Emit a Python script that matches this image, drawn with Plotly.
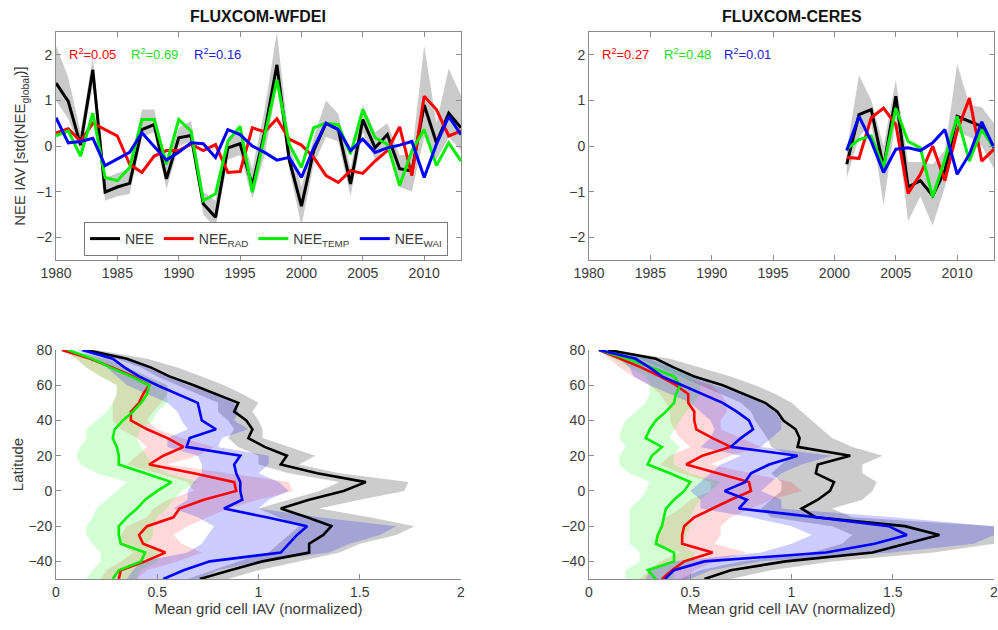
import plotly.graph_objects as go

# ---------------- NEE IAV time series ----------------
years_wfdei = list(range(1980, 2014))
wfdei_nee = [1.38, 0.98, 0.02, 1.67, -1.01, -0.9, -0.82, 0.36, 0.47, -0.72, 0.18, 0.23,
             -1.27, -1.56, -0.04, 0.05, -0.87, 0.3, 1.78, -0.3, -1.32, -0.1, 0.5, 0.36,
             -0.83, 0.58, -0.04, 0.25, -0.5, -0.55, 0.9, 0.07, 0.72, 0.4]
wfdei_rad = [0.29, 0.38, 0.1, 0.5, 0.36, 0.22, -0.4, -0.58, -0.22, -0.1, -0.1, 0.04,
             -0.1, 0.03, -0.58, -0.56, 0.4, 0.31, 0.6, 0.15, 0.02, -0.25, -0.65, -0.8,
             -0.54, -0.6, -0.33, -0.1, 0.42, -0.65, 1.09, 0.8, 0.22, 0.33]
wfdei_temp = [0.22, 0.33, -0.22, 0.72, -0.69, -0.76, -0.47, 0.58, 0.58, -0.4, 0.58, 0.33,
              -1.2, -1.05, 0.1, 0.43, -1.01, 0.2, 1.45, 0.04, -0.47, 0.4, 0.5, 0.47,
              -0.18, 0.8, 0.18, 0.04, -0.87, -0.1, 0.36, -0.43, 0.07, -0.33]
wfdei_wai = [0.62, 0.07, 0.1, 0.17, -0.43, -0.29, -0.14, 0.29, 0.0, -0.31, -0.14, 0.07,
             0.05, -0.25, 0.36, 0.25, 0.0, -0.14, -0.31, -0.25, -0.69, -0.04, 0.5, 0.36,
             -0.1, 0.15, -0.14, -0.04, 0.02, 0.1, -0.69, 0.04, 0.65, 0.25]
wfdei_nee_lo = [1.0, 0.6, -0.1, 1.3, -1.2, -1.1, -1.05, 0.2, 0.3, -0.95, 0.0, 0.1,
                -1.5, -1.8, -0.3, -0.2, -1.15, -0.2, 1.3, -0.5, -1.75, -0.4, 0.2, 0.1,
                -1.1, 0.3, -0.3, 0.0, -0.9, -1.0, 0.2, -0.3, 0.2, -0.1]
wfdei_nee_hi = [2.2, 1.5, 0.3, 1.95, -0.7, -0.6, -0.5, 0.8, 0.8, -0.4, 0.4, 0.55,
                -1.0, -1.2, 0.2, 0.35, -0.5, 0.8, 2.5, 0.1, -0.9, 0.2, 1.0, 0.7,
                -0.5, 0.9, 0.3, 0.5, -0.2, -0.2, 2.2, 0.5, 1.7, 1.1]

years_ceres = list(range(2001, 2014))
ceres_nee = [-0.4, 0.69, 0.8, -0.47, 1.09, -0.9, -0.76, -1.09, -0.54, 0.65, 0.54, 0.43, -0.04]
ceres_rad = [-0.25, -0.27, 0.62, 0.83, 0.47, -1.04, -0.62, 0.0, -0.76, 0.33, 1.05, -0.33, -0.07]
ceres_temp = [-0.07, 0.14, 0.22, -0.47, 0.83, 0.1, -0.04, -1.12, -0.29, 0.65, -0.33, 0.36, -0.04]
ceres_wai = [-0.1, 0.65, 0.1, -0.58, -0.07, -0.04, -0.1, 0.07, 0.36, -0.62, -0.18, 0.53, -0.04]
ceres_nee_lo = [-0.7, 0.2, 0.5, -1.3, 0.6, -1.65, -1.1, -1.75, -0.9, 0.3, 0.2, 0.0, -0.5]
ceres_nee_hi = [-0.1, 1.55, 1.0, 0.0, 1.45, -0.35, -0.35, -0.4, -0.1, 1.8, 0.9, 0.85, 0.5]

r2_wfdei = ["0.05", "0.69", "0.16"]
r2_ceres = ["0.27", "0.48", "0.01"]

# ---------------- Latitudinal profiles ----------------
lat = [80, 75, 70, 65, 60, 55, 50, 45, 40, 35, 30, 25, 20, 15, 10, 5, 0,
       -5, -10, -15, -20, -25, -30, -35, -40, -45, -50]

w_nee = [0.15, 0.35, 0.47, 0.56, 0.68, 0.79, 0.90, 0.88, 0.94, 0.97, 0.95, 1.03, 1.14, 1.11,
         1.29, 1.53, 1.42, 1.25, 1.11, 1.24, 1.36, 1.32, 1.25, 1.25, 1.02, 0.86, 0.71]
w_rad = [0.03, 0.17, 0.28, 0.38, 0.46, 0.43, 0.41, 0.37, 0.37, 0.45, 0.55, 0.63, 0.53, 0.46,
         0.68, 0.88, 0.89, 0.73, 0.61, 0.58, 0.45, 0.41, 0.43, 0.54, 0.44, 0.32, 0.31]
w_temp = [0.06, 0.18, 0.27, 0.37, 0.46, 0.45, 0.42, 0.38, 0.33, 0.29, 0.28, 0.30, 0.31, 0.31,
          0.44, 0.57, 0.50, 0.44, 0.40, 0.35, 0.31, 0.31, 0.32, 0.44, 0.42, 0.31, 0.28]
w_wai = [0.13, 0.28, 0.34, 0.41, 0.50, 0.60, 0.70, 0.71, 0.72, 0.79, 0.66, 0.645, 0.91, 0.88,
         0.89, 0.91, 0.91, 0.92, 0.83, 1.04, 1.24, 1.19, 1.15, 1.11, 0.76, 0.63, 0.53]

w_nee_lo = [0.14, 0.3, 0.42, 0.5, 0.6, 0.7, 0.8, 0.8, 0.85, 0.88, 0.85, 0.9, 1.0, 1.0,
            1.15, 1.4, 1.3, 1.15, 1.0, 1.1, 1.2, 1.15, 1.1, 1.05, 0.9, 0.78, 0.65]
w_nee_hi = [0.2, 0.45, 0.6, 0.72, 0.83, 0.92, 1.0, 0.97, 1.0, 1.02, 1.02, 1.15, 1.28, 1.2,
            1.4, 1.74, 1.72, 1.5, 1.3, 1.55, 1.77, 1.68, 1.5, 1.4, 1.2, 1.0, 0.85]
w_rad_lo = [0.02, 0.1, 0.15, 0.22, 0.3, 0.3, 0.28, 0.28, 0.28, 0.32, 0.4, 0.45, 0.4, 0.35,
            0.5, 0.65, 0.68, 0.55, 0.48, 0.45, 0.35, 0.32, 0.32, 0.38, 0.32, 0.25, 0.22]
w_rad_hi = [0.05, 0.25, 0.35, 0.45, 0.55, 0.55, 0.52, 0.48, 0.45, 0.5, 0.62, 0.78, 0.7, 0.55,
            0.85, 1.15, 1.17, 1.0, 0.85, 0.75, 0.65, 0.58, 0.62, 0.72, 0.6, 0.45, 0.4]
w_temp_lo = [0.04, 0.1, 0.15, 0.22, 0.3, 0.3, 0.28, 0.25, 0.2, 0.15, 0.15, 0.12, 0.1, 0.12,
             0.2, 0.35, 0.3, 0.25, 0.2, 0.18, 0.15, 0.15, 0.18, 0.22, 0.22, 0.18, 0.15]
w_temp_hi = [0.08, 0.25, 0.35, 0.45, 0.55, 0.55, 0.55, 0.5, 0.48, 0.42, 0.4, 0.42, 0.45, 0.48,
             0.55, 0.7, 0.62, 0.58, 0.55, 0.5, 0.48, 0.48, 0.45, 0.52, 0.5, 0.42, 0.4]
w_wai_lo = [0.1, 0.2, 0.25, 0.3, 0.35, 0.45, 0.55, 0.6, 0.62, 0.65, 0.55, 0.55, 0.7, 0.72,
            0.72, 0.68, 0.65, 0.65, 0.58, 0.7, 0.78, 0.75, 0.72, 0.65, 0.42, 0.38, 0.35]
w_wai_hi = [0.16, 0.35, 0.45, 0.55, 0.65, 0.78, 0.88, 0.9, 0.88, 0.95, 0.82, 0.8, 1.05, 1.05,
            1.0, 1.1, 1.15, 1.05, 1.0, 1.3, 1.68, 1.6, 1.45, 1.35, 1.0, 0.8, 0.7]

c_nee = [0.095, 0.33, 0.42, 0.52, 0.66, 0.77, 0.87, 0.93, 0.96, 1.02, 1.04, 1.03, 1.29, 1.13,
         1.12, 1.21, 1.19, 1.13, 1.05, 1.12, 1.56, 1.73, 1.56, 1.40, 0.97, 0.70, 0.57]
c_rad = [0.05, 0.16, 0.26, 0.35, 0.43, 0.49, 0.49, 0.52, 0.52, 0.53, 0.61, 0.70, 0.56, 0.48,
         0.64, 0.79, 0.80, 0.70, 0.61, 0.52, 0.47, 0.46, 0.46, 0.61, 0.47, 0.41, 0.36]
c_temp = [0.05, 0.19, 0.31, 0.42, 0.45, 0.43, 0.42, 0.38, 0.33, 0.30, 0.28, 0.36, 0.31, 0.29,
          0.40, 0.50, 0.47, 0.42, 0.38, 0.37, 0.36, 0.34, 0.33, 0.42, 0.42, 0.29, 0.33]
c_wai = [0.05, 0.23, 0.30, 0.36, 0.46, 0.56, 0.66, 0.73, 0.79, 0.81, 0.75, 0.70, 1.03, 0.89,
         0.80, 0.77, 0.67, 0.78, 0.74, 1.13, 1.48, 1.57, 1.41, 1.17, 0.57, 0.42, 0.375]

c_nee_lo = [0.08, 0.25, 0.35, 0.45, 0.55, 0.65, 0.75, 0.8, 0.82, 0.85, 0.88, 0.9, 1.0, 0.95,
            0.9, 0.95, 0.95, 0.9, 0.85, 0.9, 1.2, 1.3, 1.25, 1.1, 0.75, 0.55, 0.45]
c_nee_hi = [0.12, 0.4, 0.55, 0.7, 0.82, 0.92, 1.0, 1.05, 1.1, 1.15, 1.2, 1.3, 1.45, 1.35,
            1.35, 1.42, 1.4, 1.35, 1.2, 1.3, 2.0, 2.0, 2.0, 1.7, 1.2, 0.9, 0.7]
c_rad_lo = [0.04, 0.1, 0.15, 0.22, 0.3, 0.35, 0.38, 0.4, 0.4, 0.42, 0.45, 0.5, 0.4, 0.35,
            0.45, 0.6, 0.6, 0.5, 0.45, 0.38, 0.35, 0.33, 0.33, 0.45, 0.35, 0.3, 0.25]
c_rad_hi = [0.06, 0.25, 0.35, 0.45, 0.6, 0.65, 0.68, 0.68, 0.65, 0.65, 0.75, 0.85, 0.7, 0.6,
            0.8, 1.0, 1.05, 0.9, 0.8, 0.7, 0.65, 0.65, 0.62, 0.78, 0.62, 0.52, 0.48]
c_temp_lo = [0.04, 0.12, 0.2, 0.28, 0.3, 0.3, 0.28, 0.23, 0.18, 0.16, 0.15, 0.18, 0.15, 0.15,
             0.2, 0.3, 0.28, 0.25, 0.2, 0.2, 0.2, 0.2, 0.2, 0.25, 0.25, 0.18, 0.18]
c_temp_hi = [0.07, 0.28, 0.4, 0.5, 0.55, 0.55, 0.52, 0.48, 0.45, 0.42, 0.4, 0.45, 0.42, 0.42,
             0.5, 0.65, 0.6, 0.55, 0.52, 0.5, 0.5, 0.48, 0.45, 0.52, 0.52, 0.42, 0.42]
c_wai_lo = [0.04, 0.15, 0.2, 0.22, 0.3, 0.4, 0.5, 0.55, 0.6, 0.62, 0.6, 0.55, 0.75, 0.65,
            0.6, 0.55, 0.5, 0.55, 0.55, 0.8, 1.0, 1.1, 1.0, 0.85, 0.4, 0.3, 0.28]
c_wai_hi = [0.07, 0.3, 0.4, 0.5, 0.62, 0.75, 0.85, 0.92, 0.95, 0.95, 0.9, 0.85, 1.2, 1.05,
            0.95, 0.9, 0.85, 0.95, 0.95, 1.5, 2.0, 2.0, 1.9, 1.5, 0.85, 0.6, 0.5]

# ---------------- styling ----------------
FONT = "Liberation Sans, Arial, Helvetica, sans-serif"
TXT = "#3a3a3a"
AXC = "#8c8c8c"
COL = {"nee": "#000000", "rad": "#ff0000", "temp": "#00ee00", "wai": "#0000ff"}
BAND = {"nee": "rgba(128,128,128,0.4)", "rad": "rgba(255,0,0,0.15)",
        "temp": "rgba(0,255,0,0.17)", "wai": "rgba(0,0,255,0.2)"}
TOP_BAND = "rgba(150,150,150,0.5)"
W, H = 998, 630


def px(x, y):
    return x / W, 1 - y / H


fig = go.Figure()


def add_timeseries(xa, ya, years, nee, rad, temp, wai, lo, hi, legend):
    fig.add_trace(go.Scatter(x=years + years[::-1], y=lo + hi[::-1], fill="toself",
                             fillcolor=TOP_BAND, line=dict(width=0), mode="lines",
                             hoverinfo="skip", showlegend=False, xaxis=xa, yaxis=ya))
    names = ["NEE", "NEE<sub>RAD</sub>", "NEE<sub>TEMP</sub>", "NEE<sub>WAI</sub>"]
    for key, vals, name in zip(["nee", "rad", "temp", "wai"], [nee, rad, temp, wai], names):
        fig.add_trace(go.Scatter(x=years, y=vals, mode="lines", name=name,
                                 line=dict(color=COL[key], width=3),
                                 showlegend=legend, xaxis=xa, yaxis=ya))


def add_profile(xa, ya, series):
    for key in ["nee", "rad", "temp", "wai"]:
        _, lo, hi = series[key]
        fig.add_trace(go.Scatter(x=lo + hi[::-1], y=lat + lat[::-1], fill="toself",
                                 fillcolor=BAND[key], line=dict(width=0), mode="lines",
                                 hoverinfo="skip", showlegend=False, xaxis=xa, yaxis=ya))
    for key in ["nee", "rad", "temp", "wai"]:
        vals, _, _ = series[key]
        fig.add_trace(go.Scatter(x=vals, y=lat, mode="lines", line=dict(color=COL[key], width=2.6),
                                 showlegend=False, xaxis=xa, yaxis=ya))


add_timeseries("x", "y", years_wfdei, wfdei_nee, wfdei_rad, wfdei_temp, wfdei_wai,
               wfdei_nee_lo, wfdei_nee_hi, True)
add_timeseries("x2", "y2", years_ceres, ceres_nee, ceres_rad, ceres_temp, ceres_wai,
               ceres_nee_lo, ceres_nee_hi, False)
add_profile("x3", "y3", {"nee": (w_nee, w_nee_lo, w_nee_hi), "rad": (w_rad, w_rad_lo, w_rad_hi),
                         "temp": (w_temp, w_temp_lo, w_temp_hi), "wai": (w_wai, w_wai_lo, w_wai_hi)})
add_profile("x4", "y4", {"nee": (c_nee, c_nee_lo, c_nee_hi), "rad": (c_rad, c_rad_lo, c_rad_hi),
                         "temp": (c_temp, c_temp_lo, c_temp_hi), "wai": (c_wai, c_wai_lo, c_wai_hi)})

tickfont = dict(family=FONT, size=14, color=TXT)
titlefont = dict(family=FONT, size=15, color=TXT)

left_dom = [56 / W, 461 / W]
right_dom = [589 / W, 994 / W]
top_dom = [1 - 260 / H, 1 - 32 / H]
bot_dom = [1 - 579 / H, 1 - 350 / H]

ts_x = dict(range=[1980, 2013], tickvals=[1980, 1985, 1990, 1995, 2000, 2005, 2010],
            ticks="inside", ticklen=5, tickcolor=AXC, showline=True, linecolor=AXC,
            mirror="ticks", showgrid=False, zeroline=False, tickfont=tickfont)
ts_y = dict(range=[-2.5, 2.5], tickvals=[-2, -1, 0, 1, 2], ticks="inside", ticklen=5,
            tickcolor=AXC, showline=True, linecolor=AXC, mirror="ticks", showgrid=False,
            zeroline=False, tickfont=tickfont)
pr_x = dict(range=[0, 2], tickvals=[0, 0.5, 1, 1.5, 2], ticktext=["0", "0.5", "1", "1.5", "2"],
            ticks="inside", ticklen=5, tickcolor=AXC, showline=True, linecolor=AXC,
            showgrid=False, zeroline=False, tickfont=tickfont, ticklabeloverflow="allow",
            title=dict(text="Mean grid cell IAV (normalized)", font=titlefont, standoff=4))
pr_y = dict(range=[-50, 80], tickvals=[-40, -20, 0, 20, 40, 60, 80], ticks="inside", ticklen=5,
            tickcolor=AXC, showline=True, linecolor=AXC, showgrid=False, zeroline=False,
            tickfont=tickfont)

fig.update_layout(
    width=W, height=H, margin=dict(l=0, r=0, t=0, b=0, autoexpand=False),
    paper_bgcolor="white", plot_bgcolor="white",
    font=dict(family=FONT, color=TXT),
    xaxis=dict(domain=left_dom, anchor="y", **ts_x),
    yaxis=dict(domain=top_dom, anchor="x",
               title=dict(text="NEE IAV [std(NEE<sub>global</sub>)]", font=titlefont, standoff=6),
               **ts_y),
    xaxis2=dict(domain=right_dom, anchor="y2", **ts_x),
    yaxis2=dict(domain=top_dom, anchor="x2", **ts_y),
    xaxis3=dict(domain=left_dom, anchor="y3", **pr_x),
    yaxis3=dict(domain=bot_dom, anchor="x3", title=dict(text="Latitude", font=titlefont, standoff=1),
                **pr_y),
    xaxis4=dict(domain=right_dom, anchor="y4", **pr_x),
    yaxis4=dict(domain=bot_dom, anchor="x4", **pr_y),
    legend=dict(orientation="h", x=84 / W, y=1 - 222 / H, xanchor="left", yanchor="top",
                bgcolor="white", bordercolor="#7a7a7a", borderwidth=1,
                font=dict(family=FONT, size=14, color=TXT), itemwidth=30,
                tracegroupgap=0),
    showlegend=True,
)

annotations = []
for text, (x, y) in [("FLUXCOM-WFDEI", (258, 16)), ("FLUXCOM-CERES", (792, 16))]:
    ax, ay = px(x, y)
    annotations.append(dict(text="<b>%s</b>" % text, x=ax, y=ay, xref="paper", yref="paper",
                            xanchor="center", yanchor="middle", showarrow=False,
                            font=dict(family=FONT, size=16, color="#111111")))

r2_cols = [COL["rad"], "#22dd22", "#2020d0"]
for vals, xs in [(r2_wfdei, [67, 129, 192]), (r2_ceres, [600, 662, 722])]:
    for v, x, c in zip(vals, xs, r2_cols):
        ax, ay = px(x, 54)
        annotations.append(dict(text="R<sup>2</sup>=%s" % v, x=ax, y=ay, xref="paper",
                                yref="paper", xanchor="left", yanchor="middle", showarrow=False,
                                font=dict(family=FONT, size=13, color=c)))
fig.update_layout(annotations=annotations)

fig.write_html("out.html")
